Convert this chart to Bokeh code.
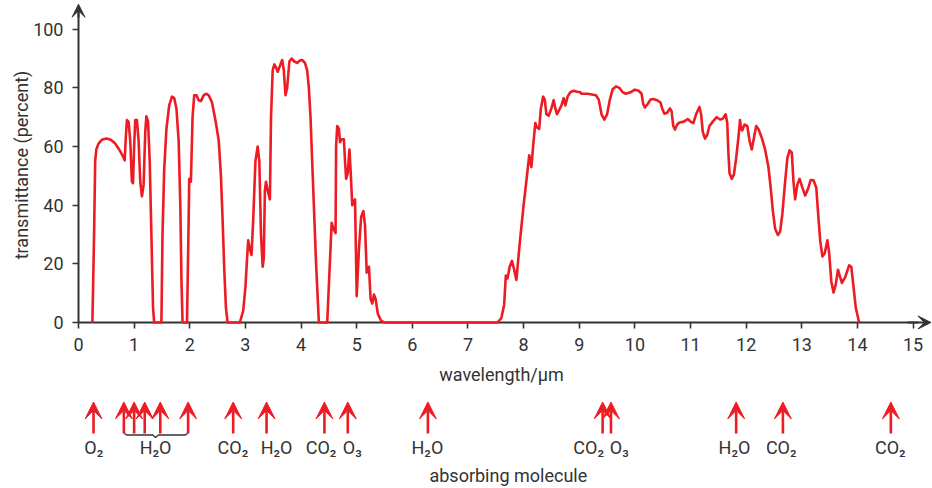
from bokeh.plotting import figure
from bokeh.layouts import column
from bokeh.models import Range1d, FixedTicker, Arrow, VeeHead, ColumnDataSource, LinearAxis
from bokeh.core.properties import value
from bokeh.embed import file_html
from bokeh.resources import INLINE

# ---------------- data ----------------
wavelength = [
    0.25, 0.28, 0.30, 0.32, 0.36, 0.42, 0.50, 0.58, 0.66, 0.73, 0.79, 0.83, 0.85, 0.87, 0.90, 0.93,
    0.96, 0.98, 1.00, 1.02, 1.05, 1.08, 1.11, 1.14, 1.17, 1.20, 1.22, 1.25, 1.28, 1.31, 1.34, 1.36,
    1.49, 1.51, 1.54, 1.58, 1.63, 1.68, 1.72, 1.76, 1.80, 1.83, 1.85, 1.87,
    1.95, 1.98, 1.99, 2.02, 2.05, 2.08, 2.12, 2.16, 2.20, 2.25, 2.30, 2.34, 2.40, 2.47, 2.52, 2.56,
    2.59, 2.62, 2.65, 2.68,
    2.90, 2.96, 3.00, 3.03, 3.05, 3.08, 3.11, 3.14, 3.18, 3.22, 3.25, 3.28, 3.31, 3.33, 3.35, 3.37,
    3.40, 3.44, 3.46, 3.49, 3.52, 3.55, 3.58, 3.62, 3.66, 3.69, 3.72, 3.75, 3.79, 3.83, 3.88, 3.93,
    3.98, 4.02, 4.07, 4.11, 4.14, 4.17, 4.22, 4.27, 4.32,
    4.47, 4.51, 4.55, 4.58, 4.62, 4.63, 4.65, 4.68, 4.70, 4.73, 4.77, 4.79, 4.81, 4.84, 4.87, 4.89,
    4.92, 4.97, 5.00, 5.04, 5.08, 5.12, 5.15, 5.18, 5.22, 5.25, 5.28, 5.31, 5.34, 5.38, 5.44, 5.50,
    7.53, 7.60, 7.65, 7.68, 7.71, 7.75, 7.79, 7.83, 7.87, 7.93, 8.00, 8.06, 8.10, 8.14, 8.17, 8.21,
    8.24, 8.28, 8.31, 8.35, 8.38, 8.41, 8.45, 8.50, 8.54, 8.57, 8.60, 8.64, 8.68, 8.72, 8.75, 8.79,
    8.84, 8.90, 8.96, 9.02, 9.04, 9.15, 9.30, 9.35, 9.40, 9.45, 9.50, 9.55, 9.60, 9.66, 9.72, 9.78,
    9.84, 9.92, 10.00, 10.07, 10.12, 10.15, 10.18, 10.23, 10.28, 10.33, 10.40, 10.46, 10.49, 10.53,
    10.58, 10.63, 10.66, 10.69, 10.72, 10.76, 10.80, 10.88, 10.95, 11.00, 11.05, 11.10, 11.16, 11.19,
    11.22, 11.26, 11.30, 11.34, 11.40, 11.47, 11.53, 11.58, 11.63, 11.66, 11.68, 11.70, 11.74, 11.78,
    11.82, 11.86, 11.89, 11.91, 11.93, 11.97, 12.02, 12.06, 12.10, 12.14, 12.18, 12.22, 12.28, 12.34,
    12.40, 12.44, 12.48, 12.52, 12.57, 12.61, 12.65, 12.70, 12.74, 12.78, 12.82, 12.85, 12.88, 12.92,
    12.96, 13.01, 13.06, 13.11, 13.16, 13.21, 13.26, 13.29, 13.33, 13.37, 13.41, 13.46, 13.49, 13.53,
    13.57, 13.61, 13.65, 13.68, 13.72, 13.78, 13.85, 13.89, 13.93, 13.97, 14.03,
]
transmittance = [
    0, 30, 55, 59, 61, 62.3, 62.7, 62.3, 61, 59, 57, 55.3, 63, 69, 68.5, 62,
    48, 47.5, 60, 69, 69, 62, 48, 43, 47, 65, 70.3, 68.5, 55, 30, 5, 0,
    0, 30, 52, 66, 74, 77, 76.5, 73, 62, 40, 15, 0,
    0, 35, 49, 48, 70, 77.5, 77.5, 75.8, 75.5, 77.5, 78, 77.5, 75, 68, 62, 50,
    35, 18, 5, 0,
    0, 4, 12, 22, 28, 25, 23, 35, 55, 60, 55, 30, 19, 22, 45, 48,
    45, 42, 70, 86, 88, 87, 85.5, 87.5, 89.5, 86, 77.5, 80, 89, 90, 89, 88.5,
    89.3, 89.5, 88.5, 86, 80, 70, 45, 20, 0,
    0, 17, 34, 32, 30.5, 60, 67, 66, 61.5, 62.5, 62.5, 55, 49, 51, 59, 52,
    40, 42, 9, 25, 36, 38, 33, 17, 19, 8, 6.5, 9.5, 8, 3, 0.5, 0,
    0, 1.5, 6, 16, 15, 19, 21, 18, 14.5, 27, 40, 50, 57, 53, 60, 68,
    66.5, 66, 73, 77, 76, 71, 70.5, 73, 75.8, 73, 71, 72.5, 74, 76.5, 74, 77,
    78.5, 79, 78.7, 78.5, 78, 78, 77.5, 76, 71, 69.2, 71, 76, 79.5, 80.5, 80, 78.5,
    78, 78.5, 79.4, 79, 78, 74.5, 73.3, 74.5, 76, 76.2, 75.8, 75, 73, 71.2,
    71.5, 73, 72, 67, 65.8, 67.5, 68.2, 68.5, 69.4, 68.5, 68, 71, 73.5, 71,
    65, 62.7, 64, 67, 68.5, 70, 69.2, 69.5, 71, 68, 58, 51, 49, 50.5,
    56, 63, 69, 66, 65.5, 67.5, 67, 62, 59, 63, 67, 66, 63, 59,
    53, 46, 38, 32, 29.8, 31, 37, 48, 56, 58.7, 58, 48, 42, 47,
    49, 46, 43.3, 45.5, 48.6, 48.5, 46, 38, 28, 22.5, 23.5, 28, 24, 14,
    10.2, 13, 18, 16, 13.5, 15.5, 19.5, 19, 12, 5, 0,
]

x_ticks = list(range(0, 16))
y_ticks = [0, 20, 40, 60, 80, 100]

# absorbing molecules: arrow positions (um) and labels
arrow_wavelength = [0.27, 0.815, 1.0, 1.19, 1.47, 1.97, 2.78, 3.38, 4.42, 4.84, 6.28,
                    9.42, 9.57, 11.82, 12.66, 14.6]
molecule_labels = ["O\u2082", "H\u2082O", "CO\u2082", "H\u2082O", "CO\u2082", "O\u2083",
                   "H\u2082O", "CO\u2082", "O\u2083", "H\u2082O", "CO\u2082", "CO\u2082"]
label_wavelength = [0.275, 1.385, 2.775, 3.56, 4.36, 4.92, 6.27, 9.17, 9.72, 11.79, 12.63, 14.59]
bracket_from, bracket_to = 1, 5  # indices of H2O arrows grouped by brace

# ---------------- style / layout ----------------
RED = "#ed1c24"
INK = "#333333"
FONT = "Roboto"
PX_PER_UM = 55.64          # horizontal scale
PX_PER_PCT = 2.93          # vertical scale
ORIGIN_X = 78              # page x of wavelength 0
ORIGIN_Y = 321.7           # page y of transmittance 0
PAD = 7                    # frame padding around the origin (px)
RIGHT = 931                # page x of frame right edge
TOP_H = 400
TOTAL_H = 488

frame_left = ORIGIN_X - PAD
frame_bottom = ORIGIN_Y + PAD
x_start = -PAD / PX_PER_UM
x_end = (RIGHT - ORIGIN_X) / PX_PER_UM
y_start = -PAD / PX_PER_PCT
y_end = ORIGIN_Y / PX_PER_PCT

x_range = Range1d(x_start, x_end)

p = figure(width=RIGHT + 1, height=TOP_H, x_range=x_range,
           y_range=Range1d(y_start, y_end),
           output_backend="svg", toolbar_location=None,
           min_border_left=frame_left, min_border_right=1, min_border_top=0,
           min_border_bottom=int(round(TOP_H - frame_bottom)))
p.outline_line_color = None
p.grid.visible = False
p.background_fill_color = "white"
p.border_fill_color = "white"

p.line(wavelength, transmittance, line_color=RED, line_width=2.6, line_join="round",
       level="annotation")

# frame-edge axes: only tick labels and axis titles
for ax in (p.xaxis[0], p.yaxis[0]):
    ax.axis_line_color = None
    ax.major_tick_line_color = None
    ax.minor_tick_line_color = None
    ax.major_tick_out = 0
    ax.major_tick_in = 0
    ax.minor_tick_out = 0
    ax.minor_tick_in = 0
    ax.major_label_text_font = FONT
    ax.major_label_text_font_size = "18px"
    ax.major_label_text_color = INK
    ax.axis_label_text_font = FONT
    ax.axis_label_text_font_size = "18px"
    ax.axis_label_text_font_style = "normal"
    ax.axis_label_text_color = INK

p.xaxis.ticker = FixedTicker(ticks=x_ticks)
p.yaxis.ticker = FixedTicker(ticks=y_ticks)
p.xaxis.axis_label = "wavelength/\u03bcm"
p.yaxis.axis_label = "transmittance (percent)"
p.xaxis.major_label_standoff = 8
p.xaxis.axis_label_standoff = 10
p.yaxis.major_label_standoff = 8
p.yaxis.axis_label_standoff = -2


# axis lines and ticks through the origin (labels are drawn by the frame-edge axes)
def origin_axis(ticks, bounds):
    return LinearAxis(fixed_location=0, ticker=FixedTicker(ticks=ticks), bounds=bounds,
                      axis_line_color=INK, axis_line_width=2,
                      major_tick_line_color=INK, major_tick_line_width=1.6,
                      major_tick_in=6, major_tick_out=0,
                      minor_tick_line_color=None, minor_tick_in=0, minor_tick_out=0,
                      major_label_overrides={t: "" for t in ticks},
                      major_label_text_font_size="1px", major_label_standoff=0)


p.add_layout(origin_axis(x_ticks, (0, 15.1)), "above")
p.add_layout(origin_axis(y_ticks, (0, 106)), "right")

p.add_layout(Arrow(end=VeeHead(size=13, fill_color=INK, line_color=INK),
                   x_start=14.9, y_start=0, x_end=x_end - 0.01, y_end=0,
                   line_color=INK, line_width=2))
p.add_layout(Arrow(end=VeeHead(size=13, fill_color=INK, line_color=INK),
                   x_start=0, y_start=104, x_end=0, y_end=y_end - 1.3,
                   line_color=INK, line_width=2))

# ---------------- molecule panel (y in page pixels, flipped) ----------------
p2 = figure(width=RIGHT + 1, height=TOTAL_H - TOP_H, x_range=x_range,
            y_range=Range1d(TOTAL_H, TOP_H),
            output_backend="svg", toolbar_location=None,
            x_axis_type=None, y_axis_type=None,
            min_border_left=frame_left, min_border_right=1, min_border_top=0, min_border_bottom=0)
p2.outline_line_color = None
p2.grid.visible = False

src = ColumnDataSource(dict(x=arrow_wavelength,
                            y0=[433] * len(arrow_wavelength),
                            y1=[401.5] * len(arrow_wavelength)))
p2.add_layout(Arrow(end=VeeHead(size=17, fill_color=RED, line_color=RED),
                    source=src, x_start="x", y_start="y0", x_end="x", y_end="y1",
                    line_color=RED, line_width=2.6))

b0 = arrow_wavelength[bracket_from]
b1 = arrow_wavelength[bracket_to]
bc = label_wavelength[1]
p2.line([b0, b0 + 0.02, b0 + 0.05, bc - 0.05, bc, bc + 0.05, b1 - 0.05, b1 - 0.02, b1],
        [430.5, 433.5, 434.5, 434.5, 437, 434.5, 434.5, 433.5, 430.5],
        line_color=INK, line_width=1.3)

p2.text(x=label_wavelength, y=[447] * len(label_wavelength), text=molecule_labels,
        text_align="center", text_baseline="middle",
        text_font=value(FONT), text_font_size="18px", text_color=INK)
p2.text(x=[(x_end + 0.12) / 2], y=[475], text=["absorbing molecule"],
        text_align="center", text_baseline="middle",
        text_font=value(FONT), text_font_size="18px", text_color=INK)

layout = column(p, p2, spacing=0)
open("out.html", "w").write(file_html(layout, INLINE))
